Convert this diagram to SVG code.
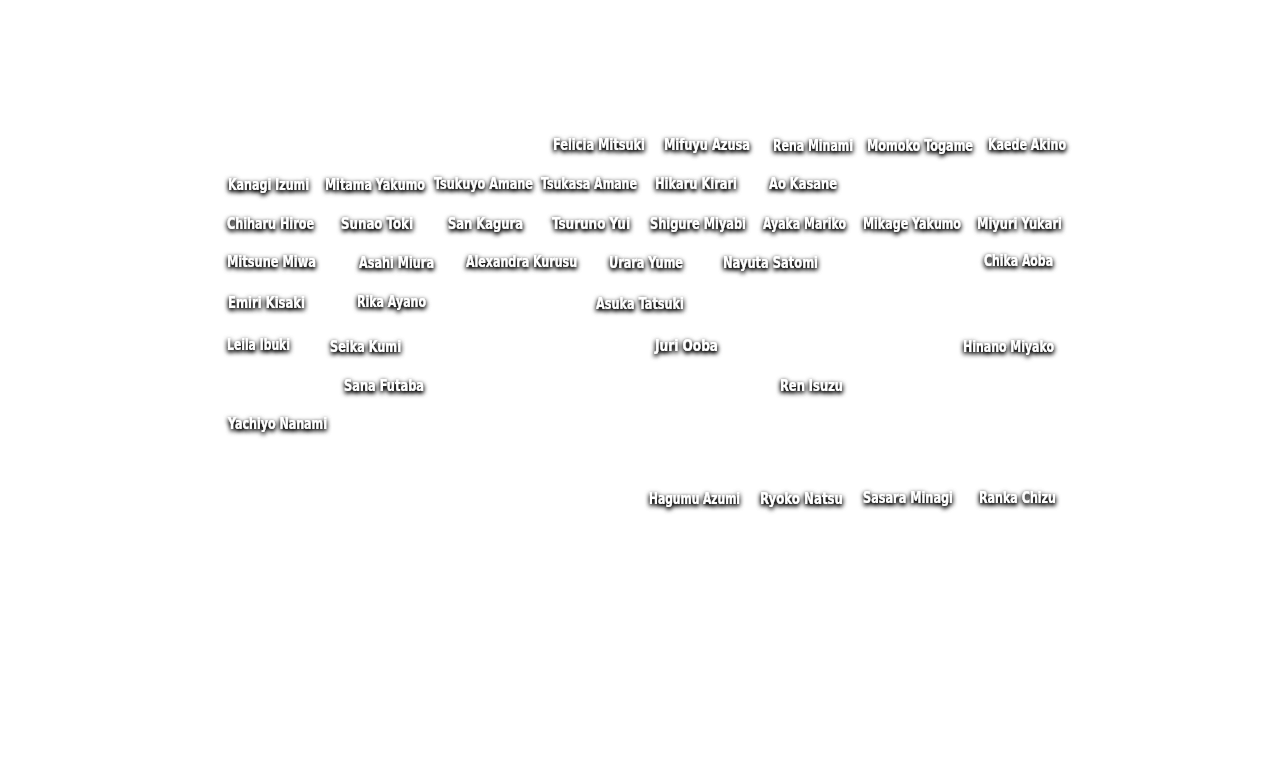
<svg xmlns="http://www.w3.org/2000/svg" width="1280" height="768" viewBox="0 0 1280 768">
<defs>
<filter id="sh" x="-20%" y="-60%" width="140%" height="220%">
<feGaussianBlur in="SourceAlpha" stdDeviation="2.5" result="b"/>
<feOffset in="b" dx="0" dy="2" result="o"/>
<feComponentTransfer in="o" result="d"><feFuncA type="linear" slope="2.1"/></feComponentTransfer>
<feFlood flood-color="#000" flood-opacity="0.85"/>
<feComposite in2="d" operator="in" result="s"/>
<feMerge><feMergeNode in="s"/><feMergeNode in="SourceGraphic"/></feMerge>
</filter>
</defs>
<style>
text{font-family:"Liberation Sans Narrow","DejaVu Sans Condensed","Liberation Sans",sans-serif;font-size:16px;font-weight:bold;fill:#fff;filter:url(#sh)}
</style>
<rect width="1280" height="768" fill="#fff"/>
<g id="nodes">
<g id="felicia"><text x="553" y="150" textLength="92" lengthAdjust="spacingAndGlyphs">Felicia Mitsuki</text></g>
<g id="mifuyu"><text x="664" y="150" textLength="86" lengthAdjust="spacingAndGlyphs">Mifuyu Azusa</text></g>
<g id="rena"><text x="773" y="151" textLength="80" lengthAdjust="spacingAndGlyphs">Rena Minami</text></g>
<g id="momoko"><text x="867" y="151" textLength="106" lengthAdjust="spacingAndGlyphs">Momoko Togame</text></g>
<g id="kaede"><text x="988" y="150" textLength="78" lengthAdjust="spacingAndGlyphs">Kaede Akino</text></g>

<g id="kanagi"><text x="228" y="190" textLength="81" lengthAdjust="spacingAndGlyphs">Kanagi Izumi</text></g>
<g id="mitama"><text x="325" y="190" textLength="100" lengthAdjust="spacingAndGlyphs">Mitama Yakumo</text></g>
<g id="tsukuyo"><text x="434" y="189" textLength="99" lengthAdjust="spacingAndGlyphs">Tsukuyo Amane</text></g>
<g id="tsukasa"><text x="541" y="189" textLength="96" lengthAdjust="spacingAndGlyphs">Tsukasa Amane</text></g>
<g id="hikaru"><text x="655" y="189" textLength="82" lengthAdjust="spacingAndGlyphs">Hikaru Kirari</text></g>
<g id="ao"><text x="769" y="189" textLength="68" lengthAdjust="spacingAndGlyphs">Ao Kasane</text></g>

<g id="chiharu"><text x="227" y="229" textLength="87" lengthAdjust="spacingAndGlyphs">Chiharu Hiroe</text></g>
<g id="sunao"><text x="341" y="229" textLength="72" lengthAdjust="spacingAndGlyphs">Sunao Toki</text></g>
<g id="san"><text x="448" y="229" textLength="75" lengthAdjust="spacingAndGlyphs">San Kagura</text></g>
<g id="tsuruno"><text x="552" y="229" textLength="78" lengthAdjust="spacingAndGlyphs">Tsuruno Yui</text></g>
<g id="shigure"><text x="650" y="229" textLength="96" lengthAdjust="spacingAndGlyphs">Shigure Miyabi</text></g>
<g id="ayaka"><text x="763" y="229" textLength="83" lengthAdjust="spacingAndGlyphs">Ayaka Mariko</text></g>
<g id="mikage"><text x="863" y="229" textLength="98" lengthAdjust="spacingAndGlyphs">Mikage Yakumo</text></g>
<g id="miyuri"><text x="977" y="229" textLength="85" lengthAdjust="spacingAndGlyphs">Miyuri Yukari</text></g>

<g id="mitsune"><text x="227" y="267" textLength="89" lengthAdjust="spacingAndGlyphs">Mitsune Miwa</text></g>
<g id="asahi"><text x="359" y="268" textLength="75" lengthAdjust="spacingAndGlyphs">Asahi Miura</text></g>
<g id="alexandra"><text x="466" y="267" textLength="111" lengthAdjust="spacingAndGlyphs">Alexandra Kurusu</text></g>
<g id="urara"><text x="609" y="268" textLength="74" lengthAdjust="spacingAndGlyphs">Urara Yume</text></g>
<g id="nayuta"><text x="723" y="268" textLength="95" lengthAdjust="spacingAndGlyphs">Nayuta Satomi</text></g>
<g id="chika"><text x="984" y="266" textLength="69" lengthAdjust="spacingAndGlyphs">Chika Aoba</text></g>

<g id="emiri"><text x="228" y="308" textLength="77" lengthAdjust="spacingAndGlyphs">Emiri Kisaki</text></g>
<g id="rika"><text x="357" y="307" textLength="69" lengthAdjust="spacingAndGlyphs">Rika Ayano</text></g>
<g id="asuka"><text x="596" y="309" textLength="88" lengthAdjust="spacingAndGlyphs">Asuka Tatsuki</text></g>

<g id="leila"><text x="227" y="350" textLength="63" lengthAdjust="spacingAndGlyphs">Leila Ibuki</text></g>
<g id="seika"><text x="330" y="352" textLength="71" lengthAdjust="spacingAndGlyphs">Seika Kumi</text></g>
<g id="juri"><text x="655" y="351" textLength="63" lengthAdjust="spacingAndGlyphs">Juri Ooba</text></g>
<g id="hinano"><text x="963" y="352" textLength="91" lengthAdjust="spacingAndGlyphs">Hinano Miyako</text></g>

<g id="sana"><text x="344" y="391" textLength="80" lengthAdjust="spacingAndGlyphs">Sana Futaba</text></g>
<g id="ren"><text x="780" y="391" textLength="63" lengthAdjust="spacingAndGlyphs">Ren Isuzu</text></g>

<g id="yachiyo"><text x="228" y="429" textLength="99" lengthAdjust="spacingAndGlyphs">Yachiyo Nanami</text></g>

<g id="hagumu"><text x="649" y="504" textLength="91" lengthAdjust="spacingAndGlyphs">Hagumu Azumi</text></g>
<g id="ryoko"><text x="760" y="504" textLength="83" lengthAdjust="spacingAndGlyphs">Ryoko Natsu</text></g>
<g id="sasara"><text x="863" y="503" textLength="90" lengthAdjust="spacingAndGlyphs">Sasara Minagi</text></g>
<g id="ranka"><text x="979" y="503" textLength="77" lengthAdjust="spacingAndGlyphs">Ranka Chizu</text></g>
</g>
</svg>
